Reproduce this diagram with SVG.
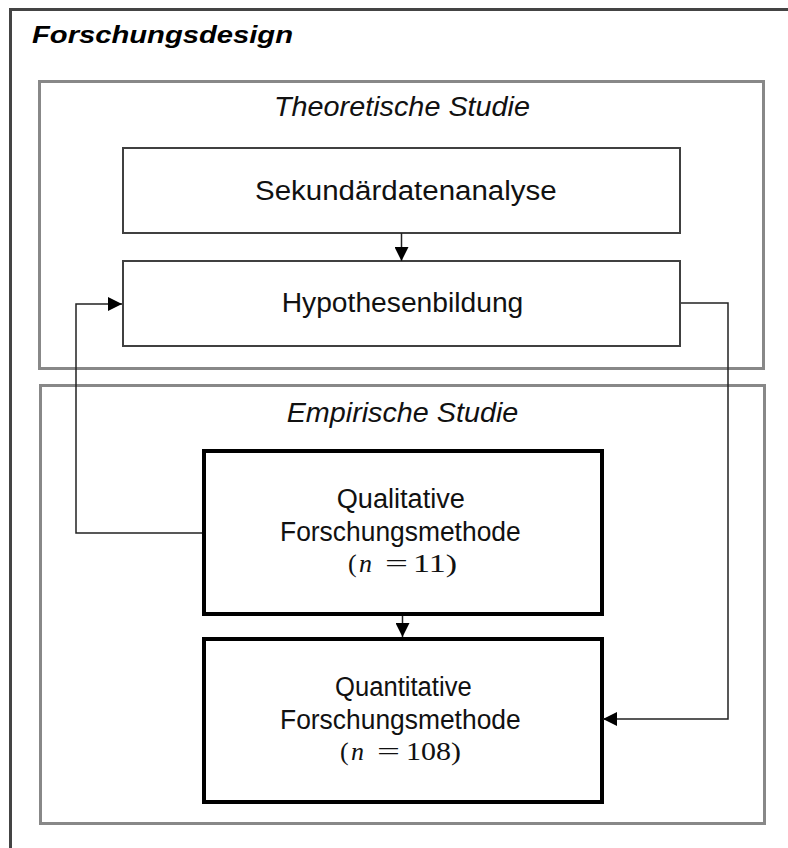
<svg xmlns="http://www.w3.org/2000/svg" width="788" height="848" viewBox="0 0 788 848">
<defs>
<marker id="ah" viewBox="0 0 14 14" refX="14" refY="7" markerWidth="14" markerHeight="14" markerUnits="userSpaceOnUse" orient="auto">
<path d="M0,0 L14,7 L0,14 Z" fill="#000"/>
</marker>
<style>
.t{font-family:"Liberation Sans",Arial,sans-serif;font-size:27px;fill:#111}
.ti{font-family:"Liberation Sans",Arial,sans-serif;font-size:27px;font-style:italic;fill:#111}
.m{font-family:"Liberation Serif","Times New Roman",serif;font-size:26px;fill:#111}
.grp{fill:none;stroke:#888;stroke-width:3}
.box{fill:#fff;stroke:#404040;stroke-width:2}
.bbox{fill:#fff;stroke:#000;stroke-width:4}
.c{fill:none;stroke:#222;stroke-width:1.5}
</style>
</defs>
<rect width="788" height="848" fill="#fff"/>
<g id="outer">
<rect x="10.5" y="9.5" width="800" height="860" fill="none" stroke="#444" stroke-width="3"/>
<text x="32" y="43" textLength="261" lengthAdjust="spacingAndGlyphs" style="font-family:'Liberation Sans',Arial,sans-serif;font-size:24px;font-weight:bold;font-style:italic;fill:#000">Forschungsdesign</text>
</g>
<g id="theoretische-studie">
<rect class="grp" x="39.5" y="81.5" width="724" height="287"/>
<text class="ti" x="274" y="116" textLength="256" lengthAdjust="spacingAndGlyphs">Theoretische Studie</text>
</g>
<g id="empirische-studie">
<rect class="grp" x="40.5" y="385.5" width="724" height="438"/>
<text class="ti" x="286.7" y="421.7" textLength="231.6" lengthAdjust="spacingAndGlyphs">Empirische Studie</text>
</g>
<g id="sekundaerdatenanalyse">
<rect class="box" x="123" y="148" width="557" height="85"/>
<text class="t" x="255" y="200" textLength="301.7" lengthAdjust="spacingAndGlyphs">Sekundärdatenanalyse</text>
</g>
<g id="hypothesenbildung">
<rect class="box" x="123" y="261" width="557" height="85"/>
<text class="t" x="281.7" y="311.7" textLength="241.6" lengthAdjust="spacingAndGlyphs">Hypothesenbildung</text>
</g>
<g id="qualitative">
<rect class="bbox" x="204" y="451" width="398" height="163"/>
<text class="t" x="336.7" y="508.3" textLength="128.3" lengthAdjust="spacingAndGlyphs">Qualitative</text>
<text class="t" x="280" y="541" textLength="240.7" lengthAdjust="spacingAndGlyphs">Forschungsmethode</text>
<text class="m" y="571.5"><tspan x="348">(</tspan><tspan x="359" font-style="italic">n</tspan><tspan x="385" textLength="23" lengthAdjust="spacingAndGlyphs">=</tspan><tspan x="413" textLength="44" lengthAdjust="spacingAndGlyphs">11)</tspan></text>
</g>
<g id="quantitative">
<rect class="bbox" x="204" y="639" width="398" height="163"/>
<text class="t" x="335" y="696" textLength="136.7" lengthAdjust="spacingAndGlyphs">Quantitative</text>
<text class="t" x="280" y="729" textLength="240.7" lengthAdjust="spacingAndGlyphs">Forschungsmethode</text>
<text class="m" y="759.5"><tspan x="340">(</tspan><tspan x="351" font-style="italic">n</tspan><tspan x="377" textLength="23" lengthAdjust="spacingAndGlyphs">=</tspan><tspan x="406" textLength="55" lengthAdjust="spacingAndGlyphs">108)</tspan></text>
</g>
<g id="connectors">
<path class="c" d="M401.5,233 V261" marker-end="url(#ah)"/>
<path class="c" d="M402.5,616 V637" marker-end="url(#ah)"/>
<path class="c" d="M202,533 H76 V304 H122" stroke="#555" marker-end="url(#ah)"/>
<path class="c" d="M681,303 H728 V719 H603" marker-end="url(#ah)"/>
</g>
</svg>
